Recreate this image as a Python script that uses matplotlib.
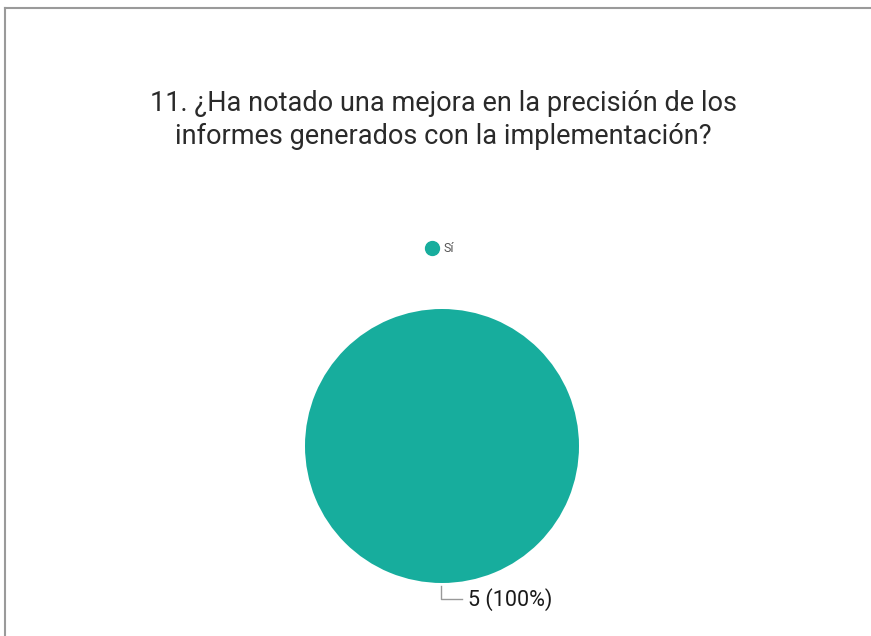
import matplotlib
matplotlib.use("Agg")
import matplotlib.pyplot as plt
from matplotlib.lines import Line2D

categories = ["Sí"]
values = [5]
percent_labels = ["5 (100%)"]
title = "11. ¿Ha notado una mejora en la precisión de los\ninformes generados con la implementación?"
color = "#17ad9d"

W, H = 871, 636
fig = plt.figure(figsize=(W / 100, H / 100), dpi=100)
fig.patch.set_facecolor("white")

# frame lines (top and left)
fig.add_artist(Line2D([5 / W, 1], [1 - 8 / H, 1 - 8 / H], color="#9a9a9a", lw=1.5, transform=fig.transFigure))
fig.add_artist(Line2D([5 / W, 5 / W], [0, 1 - 8 / H], color="#9a9a9a", lw=1.5, transform=fig.transFigure))

# title
fig.text(443 / W, 1 - 120 / H, title, ha="center", va="center", fontsize=19.5,
         family=["Roboto", "DejaVu Sans"], color="#2a2a2a", linespacing=1.32)

# pie
cx, cy, r = 442, 446, 137
ax = fig.add_axes([(cx - r) / W, 1 - (cy + r) / H, 2 * r / W, 2 * r / H])
ax.pie(values, colors=[color], startangle=90, counterclock=False,
       wedgeprops=dict(linewidth=0))
ax.set_aspect("equal")
ax.set_xlim(-1, 1)
ax.set_ylim(-1, 1)

# legend
fig.add_artist(Line2D([432 / W], [1 - 248 / H], marker="o", markersize=10, color=color,
                      linestyle="none", transform=fig.transFigure))
fig.text(443 / W, 1 - 248 / H, categories[0], ha="left", va="center", fontsize=9,
         family=["Roboto", "DejaVu Sans"], color="#555555")

# data label with leader
fig.add_artist(Line2D([441 / W, 441 / W, 462 / W], [1 - 586 / H, 1 - 599 / H, 1 - 599 / H],
                      color="#999999", lw=1, transform=fig.transFigure))
fig.text(468 / W, 1 - 600 / H, percent_labels[0], ha="left", va="center", fontsize=15.5,
         family=["Roboto", "DejaVu Sans"], color="#1a1a1a")

fig.savefig("out.png", dpi=100, facecolor="white")
